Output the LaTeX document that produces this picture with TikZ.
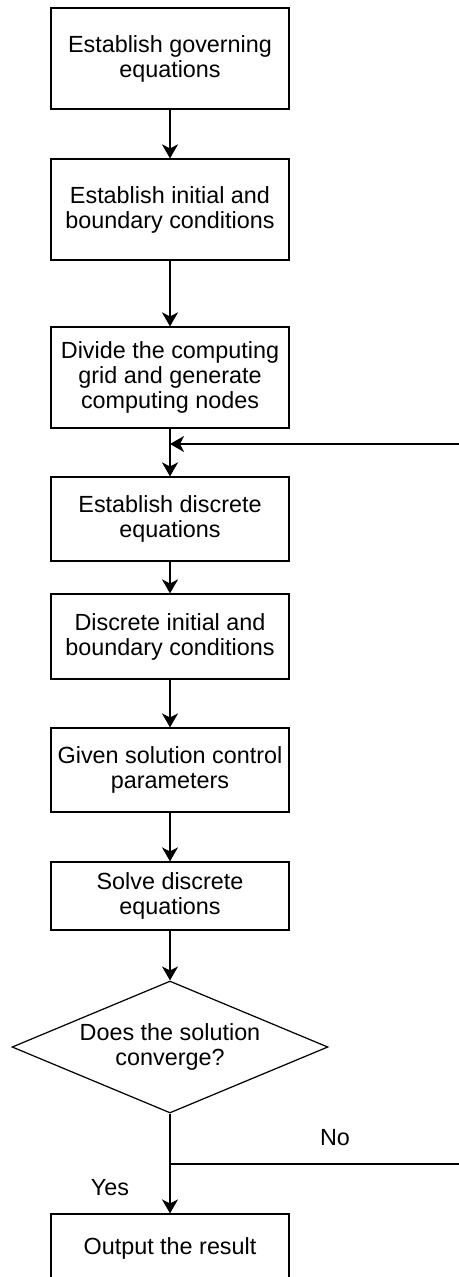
\documentclass[tikz,border=0pt]{standalone}
\usepackage{fontspec}
\setmainfont{Liberation Sans}
\usetikzlibrary{arrows.meta, shapes.geometric}

\begin{document}
\begin{tikzpicture}[x=0.02cm, y=-0.02cm,
    every node/.style={font=\fontsize{13.3}{14.2}\selectfont},
    stepbox/.style={rectangle, draw, line width=0.7pt, minimum width=4.76cm, align=center, inner sep=2pt},
    decide/.style={diamond, draw, line width=0.7pt, aspect=2.4, inner sep=0pt, minimum width=6.32cm, minimum height=2.64cm, align=center},
    arrow/.style={-{Stealth[length=0.28cm, width=0.32cm, inset=0.08cm]}, line width=0.7pt}]

  \useasboundingbox (0,0) rectangle (458,1277);

  \node[stepbox, minimum height=2.02cm] (gov)   at (170, 58.5) {Establish governing\\equations};
  \node[stepbox, minimum height=2.02cm] (cond)  at (170,209.5) {Establish initial and\\boundary conditions};
  \node[stepbox, minimum height=2.02cm] (grid)  at (170,377.5) {Divide the computing\\grid and generate\\computing nodes};
  \node[stepbox, minimum height=1.68cm] (disc)  at (170,519)   {Establish discrete\\equations};
  \node[stepbox, minimum height=1.70cm] (dcond) at (170,636.5) {Discrete initial and\\boundary conditions};
  \node[stepbox, minimum height=1.68cm] (param) at (170,770)   {Given solution control\\parameters};
  \node[stepbox, minimum height=1.36cm] (solve) at (170,896)   {Solve discrete\\equations};

  \node[decide] (conv) at (170,1047) {Does the solution\\converge?};

  \node[stepbox, minimum height=1.36cm] (out) at (170,1248) {Output the result};

  \node (no)  at (335,1138) {No};
  \node (yes) at (110,1188) {Yes};

  \coordinate (nojoin) at (170,1164);
  \coordinate (loopin) at (170,444);
  \coordinate (rt)     at (470,0);

  \draw[arrow] (gov.south)   -- (cond.north);
  \draw[arrow] (cond.south)  -- (grid.north);
  \draw[arrow] (grid.south)  -- (disc.north);
  \draw[arrow] (disc.south)  -- (dcond.north);
  \draw[arrow] (dcond.south) -- (param.north);
  \draw[arrow] (param.south) -- (solve.north);
  \draw[arrow] (solve.south) -- (conv.north);
  \draw[arrow] (conv.south)  -- (out.north);
  \draw[arrow] (nojoin) -- (nojoin -| rt) -- (loopin -| rt) -- (loopin);
\end{tikzpicture}
\end{document}
